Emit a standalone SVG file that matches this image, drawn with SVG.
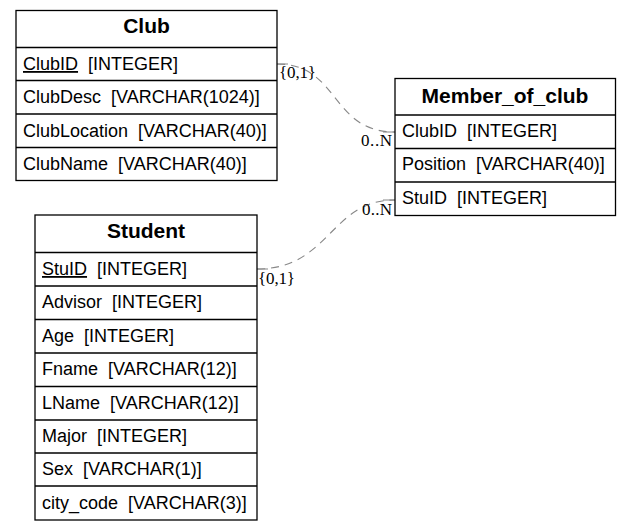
<svg xmlns="http://www.w3.org/2000/svg" width="631" height="531" viewBox="0 0 631 531">
<style>
.box{fill:#fff;stroke:#000;stroke-width:1.3}
.sep{stroke:#000;stroke-width:1.3}
.h{font-family:"Liberation Sans",Arial,sans-serif;font-weight:bold;font-size:21px;text-anchor:middle;fill:#000}
.f{font-family:"Liberation Sans",Arial,sans-serif;font-size:18px;fill:#000;white-space:pre}
.u{text-decoration:underline}
.c{fill:none;stroke:#888;stroke-width:1.1;stroke-dasharray:8,6}
.t{stroke:#888;stroke-width:1}
.l{font-family:"Liberation Serif","Times New Roman",serif;font-size:17px;fill:#000}
</style>
<rect width="631" height="531" fill="#fff"/>
<g id="connectors">
<path class="c" d="M277,64 C340,64 330,132 395,132"/>
<line class="t" x1="277" y1="64" x2="288" y2="64"/>
<line class="t" x1="383" y1="132" x2="395" y2="132"/>
<text class="l" x="279" y="78" textLength="37">{0,1}</text>
<text class="l" x="361" y="146" textLength="31">0..N</text>
<path class="c" d="M257,269 C330,269 330,200 395,200"/>
<line class="t" x1="257" y1="269" x2="268" y2="269"/>
<line class="t" x1="383" y1="200" x2="395" y2="200"/>
<text class="l" x="258" y="284" textLength="37">{0,1}</text>
<text class="l" x="362" y="215" textLength="30">0..N</text>
</g>
<g id="club">
<rect class="box" x="16" y="10.5" width="261" height="170"/>
<line class="sep" x1="16" y1="47.5" x2="277" y2="47.5"/>
<line class="sep" x1="16" y1="80.5" x2="277" y2="80.5"/>
<line class="sep" x1="16" y1="114" x2="277" y2="114"/>
<line class="sep" x1="16" y1="147.5" x2="277" y2="147.5"/>
<text class="h" x="146.5" y="33">Club</text>
<text class="f" x="23" y="70"><tspan class="u">ClubID</tspan>  [INTEGER]</text>
<text class="f" x="23" y="103">ClubDesc  [VARCHAR(1024)]</text>
<text class="f" x="23" y="137">ClubLocation  [VARCHAR(40)]</text>
<text class="f" x="23" y="170">ClubName  [VARCHAR(40)]</text>
</g>
<g id="member_of_club">
<rect class="box" x="395" y="78.5" width="220.5" height="137"/>
<line class="sep" x1="395" y1="115" x2="615.5" y2="115"/>
<line class="sep" x1="395" y1="148.5" x2="615.5" y2="148.5"/>
<line class="sep" x1="395" y1="182" x2="615.5" y2="182"/>
<text class="h" x="505" y="103">Member_of_club</text>
<text class="f" x="402" y="137">ClubID  [INTEGER]</text>
<text class="f" x="402" y="170">Position  [VARCHAR(40)]</text>
<text class="f" x="402" y="204">StuID  [INTEGER]</text>
</g>
<g id="student">
<rect class="box" x="35" y="215" width="222" height="305"/>
<line class="sep" x1="35" y1="252.5" x2="257" y2="252.5"/>
<line class="sep" x1="35" y1="286" x2="257" y2="286"/>
<line class="sep" x1="35" y1="319.5" x2="257" y2="319.5"/>
<line class="sep" x1="35" y1="353" x2="257" y2="353"/>
<line class="sep" x1="35" y1="386.5" x2="257" y2="386.5"/>
<line class="sep" x1="35" y1="420" x2="257" y2="420"/>
<line class="sep" x1="35" y1="453" x2="257" y2="453"/>
<line class="sep" x1="35" y1="486" x2="257" y2="486"/>
<text class="h" x="146" y="238">Student</text>
<text class="f" x="42" y="275"><tspan class="u">StuID</tspan>  [INTEGER]</text>
<text class="f" x="42" y="308">Advisor  [INTEGER]</text>
<text class="f" x="42" y="342">Age  [INTEGER]</text>
<text class="f" x="42" y="375">Fname  [VARCHAR(12)]</text>
<text class="f" x="42" y="409">LName  [VARCHAR(12)]</text>
<text class="f" x="42" y="442">Major  [INTEGER]</text>
<text class="f" x="42" y="475">Sex  [VARCHAR(1)]</text>
<text class="f" x="42" y="509">city_code  [VARCHAR(3)]</text>
</g>
</svg>
